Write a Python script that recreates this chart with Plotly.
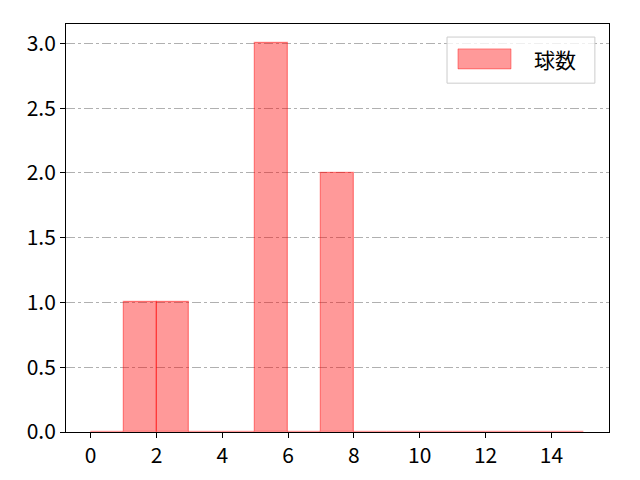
import plotly.graph_objects as go

# histogram bins (left edges) and counts
bin_left = [0, 1, 2, 3, 4, 5, 6, 7, 8, 9, 10, 11, 12, 13, 14]
counts = [0, 1, 1, 0, 0, 3, 0, 2, 0, 0, 0, 0, 0, 0, 0]
series_name = "球数"

FONT = "Noto Sans CJK JP"

fig = go.Figure()
fig.add_trace(go.Bar(
    x=[b + 0.5 for b in bin_left],
    y=counts,
    width=1,
    name=series_name,
    marker=dict(color="rgba(255,0,0,0.4)",
                line=dict(color="rgba(255,0,0,0.4)", width=1.3)),
    showlegend=False,
))

# page body has an 8px margin, so the figure is 8px smaller and shifted
fig.update_layout(
    width=632, height=472,
    margin=dict(l=58, r=31, t=16, b=48),
    plot_bgcolor="white",
    paper_bgcolor="white",
    font=dict(family=FONT, size=21, color="black"),
    bargap=0,
)
fig.update_xaxes(
    range=[-0.75, 15.75], dtick=2, tick0=0,
    showgrid=False, zeroline=False,
    showline=True, linecolor="black", linewidth=1, mirror=True,
    ticks="outside", ticklen=5, tickcolor="black",
)
fig.update_yaxes(
    range=[0, 3.15], dtick=0.5, tick0=0, tickformat=".1f",
    showgrid=True, gridcolor="#b0b0b0", gridwidth=1, griddash="dashdot",
    zeroline=False,
    showline=True, linecolor="black", linewidth=1, mirror=True,
    ticks="outside", ticklen=5, tickcolor="black",
)

# legend drawn like matplotlib's (wide patch + label)
fig.add_shape(type="rect", xref="paper", yref="paper",
              x0=0.7017, x1=0.974, y0=0.855, y1=0.968,
              line=dict(color="#cccccc", width=1),
              fillcolor="rgba(255,255,255,0.8)", layer="above")
fig.add_shape(type="rect", xref="paper", yref="paper",
              x0=0.7219, x1=0.8195, y0=0.89, y1=0.939,
              line=dict(color="rgba(255,0,0,0.4)", width=1),
              fillcolor="rgba(255,0,0,0.4)", layer="above")
fig.add_annotation(xref="paper", yref="paper", x=0.859, y=0.914,
                   text=series_name, showarrow=False,
                   xanchor="left", yanchor="middle",
                   font=dict(family=FONT, size=21, color="black"))

fig.write_html("out.html")
